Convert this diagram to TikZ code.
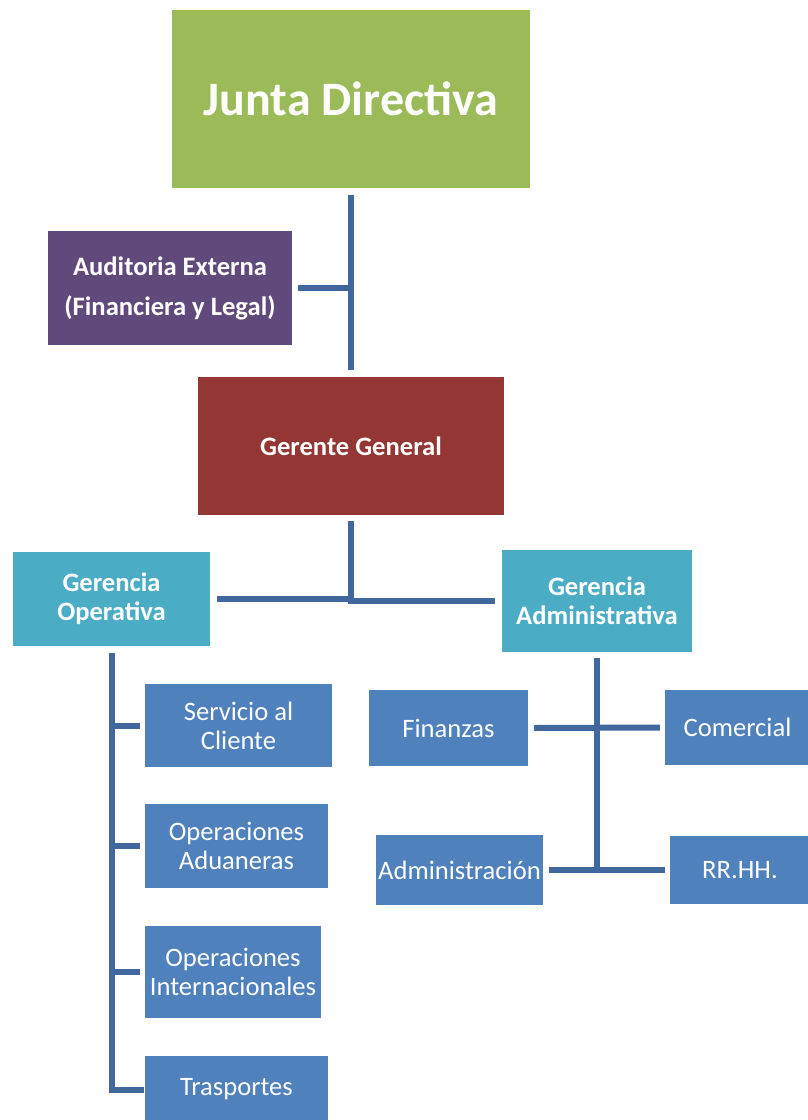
\documentclass[tikz,border=0pt]{standalone}
\usepackage{fontspec}
\setmainfont{Carlito}
\definecolor{jdgreen}{HTML}{9BBB59}
\definecolor{audpurple}{HTML}{604A7B}
\definecolor{ggred}{HTML}{943634}
\definecolor{gercyan}{HTML}{4BACC6}
\definecolor{unitblue}{HTML}{4F81BD}
\definecolor{linkblue}{HTML}{41689E}
\begin{document}
\begin{tikzpicture}[x=1pt,y=-1pt,
  box/.style={inner sep=0pt,align=center,text=white,anchor=center},
  head/.style={box,font=\fontsize{26.6}{29}\selectfont\bfseries},
  unit/.style={box,fill=unitblue,font=\fontsize{26.6}{29}\selectfont},
  link/.style={draw=linkblue,line width=6pt}]
\useasboundingbox (0,0) rectangle (807,1120);

% top levels
\node[box,fill=jdgreen,minimum width=358pt,minimum height=178pt,font=\fontsize{48}{54}\selectfont\bfseries] (jd) at (351,99) {Junta Directiva};
\node[head,fill=audpurple,minimum width=244pt,minimum height=114pt,font=\fontsize{26.6}{40}\selectfont\bfseries] (aud) at (170,288) {Auditoria Externa\\(Financiera y Legal)};
\node[head,fill=ggred,minimum width=306pt,minimum height=138pt] (gg) at (351,446) {Gerente General};

% managements
\node[head,fill=gercyan,minimum width=197pt,minimum height=94pt] (gop) at (111.5,599) {Gerencia\\Operativa};
\node[head,fill=gercyan,minimum width=190pt,minimum height=102pt] (gad) at (597,601) {Gerencia\\Administrativa};

% operative units
\node[unit,minimum width=187pt,minimum height=83pt] (sc) at (238.5,725.5) {Servicio al\\Cliente};
\node[unit,minimum width=183pt,minimum height=84pt] (oa) at (236.5,846) {Operaciones\\Aduaneras};
\node[unit,minimum width=176pt,minimum height=92pt] (oi) at (233,972) {Operaciones\\Internacionales};
\node[unit,minimum width=183pt,minimum height=67pt] (tr) at (236.5,1089.5) {Trasportes};

% administrative units
\node[unit,minimum width=159pt,minimum height=76pt] (fin) at (448.5,728) {Finanzas};
\node[unit,minimum width=145pt,minimum height=75pt] (com) at (737.5,727.5) {Comercial};
\node[unit,minimum width=167pt,minimum height=70pt] (adm) at (459.5,870) {Administración};
\node[unit,minimum width=140pt,minimum height=68pt] (rrhh) at (740,870) {RR.HH.};

% junction points
\coordinate (j1) at (351,288);
\coordinate (j2) at (351,600);
\coordinate (j3) at (597,870);

% connectors
\draw[link] ([yshift=-7pt]jd.south) -- ([yshift=7pt]gg.north);
\draw[link] ([xshift=6pt]aud.east) -- (j1);
\draw[link] ([yshift=-6pt]gg.south) -- (j2);
\draw[link] ([xshift=7pt]gop.east) -- (gop.east -| j2) -- (j2) -- (gad.west -| j2) -- ([xshift=-7pt]gad.west);

\draw[link] ([yshift=-7pt]gop.south) |- ([xshift=-1pt]tr.west);
\draw[link] ([xshift=-5pt]sc.west) -- (sc.west -| gop.south);
\draw[link] ([xshift=-5pt]oa.west) -- (oa.west -| gop.south);
\draw[link] ([xshift=-5pt]oi.west) -- (oi.west -| gop.south);

\draw[link] ([yshift=-6pt]gad.south) -- (j3);
\draw[link] ([xshift=6pt]fin.east) -- ([xshift=-5pt]com.west);
\draw[link] ([xshift=6pt]adm.east) -- ([xshift=-5pt]rrhh.west);
\end{tikzpicture}
\end{document}
